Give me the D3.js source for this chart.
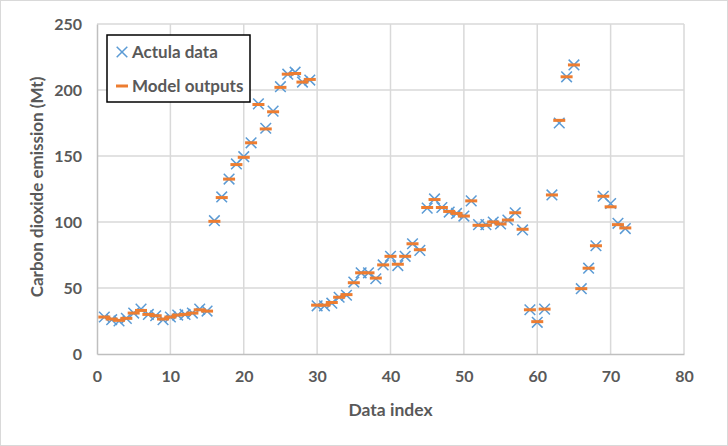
<!DOCTYPE html>
<html>
<head>
<meta charset="utf-8">
<script src="https://cdn.jsdelivr.net/npm/d3@7"></script>
<style>
  body { margin: 0; background: #fff; }
  svg { display: block; }
</style>
</head>
<body>
<div id="chart"></div>
<script>
const xTicks = [0, 10, 20, 30, 40, 50, 60, 70, 80];
const yTicks = [0, 50, 100, 150, 200, 250];

const actualData = [
  28, 26, 25, 27, 31, 34, 30, 29, 26, 28,
  29.5, 30, 31, 34, 32.5, 101, 119, 132.5, 144, 149.5,
  160, 189.5, 171, 184, 202.5, 212, 213.5, 206, 207.5, 36.5,
  36.5, 38.5, 43, 44.5, 54.5, 61.5, 61.5, 57, 67.5, 74,
  67, 74, 83.5, 78.5, 110.5, 117.5, 111, 107.5, 106.5, 104.5,
  116, 98, 98, 100, 98.5, 101.5, 107, 94, 33.5, 24,
  34, 120.5, 175, 210, 219, 49.5, 65, 82, 119.5, 114,
  99, 95
];
const modelData = [
  28, 26.5, 25.5, 27, 31, 33, 30, 29, 26.5, 28,
  29.5, 30, 31, 33.5, 32.5, 100.5, 118.5, 132.5, 143.5, 149,
  160, 189, 170.5, 183.5, 202, 212, 212.5, 206, 208, 37,
  37, 39, 43, 45, 54, 61.5, 61.5, 57.5, 67.5, 74,
  68, 74, 83.5, 79, 111, 117, 111, 108, 106.5, 104.5,
  116, 97.5, 97.5, 100, 98.5, 101.5, 107, 94.5, 33.5, 24.5,
  34, 120.5, 177, 210, 219, 49.5, 65, 82, 119.5, 111.5,
  98, 95.5
];

const W = 728, H = 446;
const margin = { top: 24, right: 44, bottom: 92, left: 97 };
const width = W - margin.left - margin.right,
      height = H - margin.top - margin.bottom;

const font = "Lato, 'Open Sans', sans-serif";
const textColor = "#595959";
const blue = "#5b9bd5";
const orange = "#ed7d31";

const root = d3.select("#chart").append("svg")
  .attr("width", W)
  .attr("height", H);

root.append("rect")
  .attr("x", 0.5).attr("y", 0.5)
  .attr("width", W - 1).attr("height", H - 1)
  .attr("fill", "#fff")
  .attr("stroke", "#d9d9d9");

const svg = root.append("g")
  .attr("transform", "translate(" + margin.left + "," + margin.top + ")");

const x = d3.scaleLinear().domain([0, 80]).range([0, width]);
const y = d3.scaleLinear().domain([0, 250]).range([height, 0]);

// grid
svg.append("g")
  .selectAll("line.h")
  .data(yTicks.filter(d => d > 0))
  .join("line")
  .attr("x1", 0).attr("x2", width)
  .attr("y1", d => y(d)).attr("y2", d => y(d))
  .attr("stroke", "#d9d9d9").attr("stroke-width", 1.5);

svg.append("g")
  .selectAll("line.v")
  .data(xTicks.filter(d => d > 0))
  .join("line")
  .attr("x1", d => x(d)).attr("x2", d => x(d))
  .attr("y1", 0).attr("y2", height)
  .attr("stroke", "#d9d9d9").attr("stroke-width", 1.5);

// axes
const xAxis = svg.append("g")
  .attr("transform", "translate(0," + height + ")")
  .call(d3.axisBottom(x).tickValues(xTicks).tickSize(0).tickPadding(17));
xAxis.select(".domain").attr("stroke", "#bfbfbf").attr("stroke-width", 1.5);
xAxis.selectAll("text")
  .style("font-family", font).style("font-size", "16px")
  .style("font-weight", "bold").attr("fill", textColor);

const yAxis = svg.append("g")
  .call(d3.axisLeft(y).tickValues(yTicks).tickSize(0).tickPadding(15));
yAxis.select(".domain").attr("stroke", "#bfbfbf").attr("stroke-width", 1.5);
yAxis.selectAll("text")
  .style("font-family", font).style("font-size", "16px")
  .style("font-weight", "bold").attr("fill", textColor);

svg.append("text")
  .attr("x", width / 2)
  .attr("y", height + 62)
  .attr("text-anchor", "middle")
  .style("font-family", font).style("font-size", "17.5px")
  .style("font-weight", "bold").attr("fill", textColor)
  .text("Data index");

svg.append("text")
  .attr("transform", "rotate(-90)")
  .attr("x", -height / 2 + 2)
  .attr("y", -54)
  .attr("text-anchor", "middle")
  .style("font-family", font).style("font-size", "17px")
  .style("font-weight", "bold").attr("fill", textColor)
  .text("Carbon dioxide emission (Mt)");

// actual data: x markers
const cross = d3.symbol().type(d3.symbolX).size(75);
svg.append("g")
  .selectAll("path")
  .data(actualData)
  .join("path")
  .attr("transform", (d, i) => "translate(" + x(i + 1) + "," + y(d) + ")")
  .attr("d", cross)
  .attr("fill", "none")
  .attr("stroke", blue)
  .attr("stroke-width", 1.5);

// model outputs: dash markers
svg.append("g")
  .selectAll("line")
  .data(modelData)
  .join("line")
  .attr("x1", (d, i) => x(i + 1) - 6)
  .attr("x2", (d, i) => x(i + 1) + 6)
  .attr("y1", d => y(d)).attr("y2", d => y(d))
  .attr("stroke", orange)
  .attr("stroke-width", 3);

// legend
const legend = root.append("g").attr("transform", "translate(107,35)");
legend.append("rect")
  .attr("width", 143).attr("height", 67)
  .attr("fill", "#fff")
  .attr("stroke", "#000").attr("stroke-width", 1.5);

legend.append("path")
  .attr("transform", "translate(15,17)")
  .attr("d", cross)
  .attr("fill", "none").attr("stroke", blue).attr("stroke-width", 1.5);
legend.append("line")
  .attr("x1", 9).attr("x2", 21).attr("y1", 51).attr("y2", 51)
  .attr("stroke", orange).attr("stroke-width", 3);

legend.selectAll("text.lab")
  .data(["Actula data", "Model outputs"])
  .join("text")
  .attr("x", 25)
  .attr("y", (d, i) => 17 + i * 34)
  .attr("dy", "0.35em")
  .style("font-family", font).style("font-size", "17px")
  .style("font-weight", "bold").attr("fill", textColor)
  .text(d => d);
</script>
</body>
</html>
